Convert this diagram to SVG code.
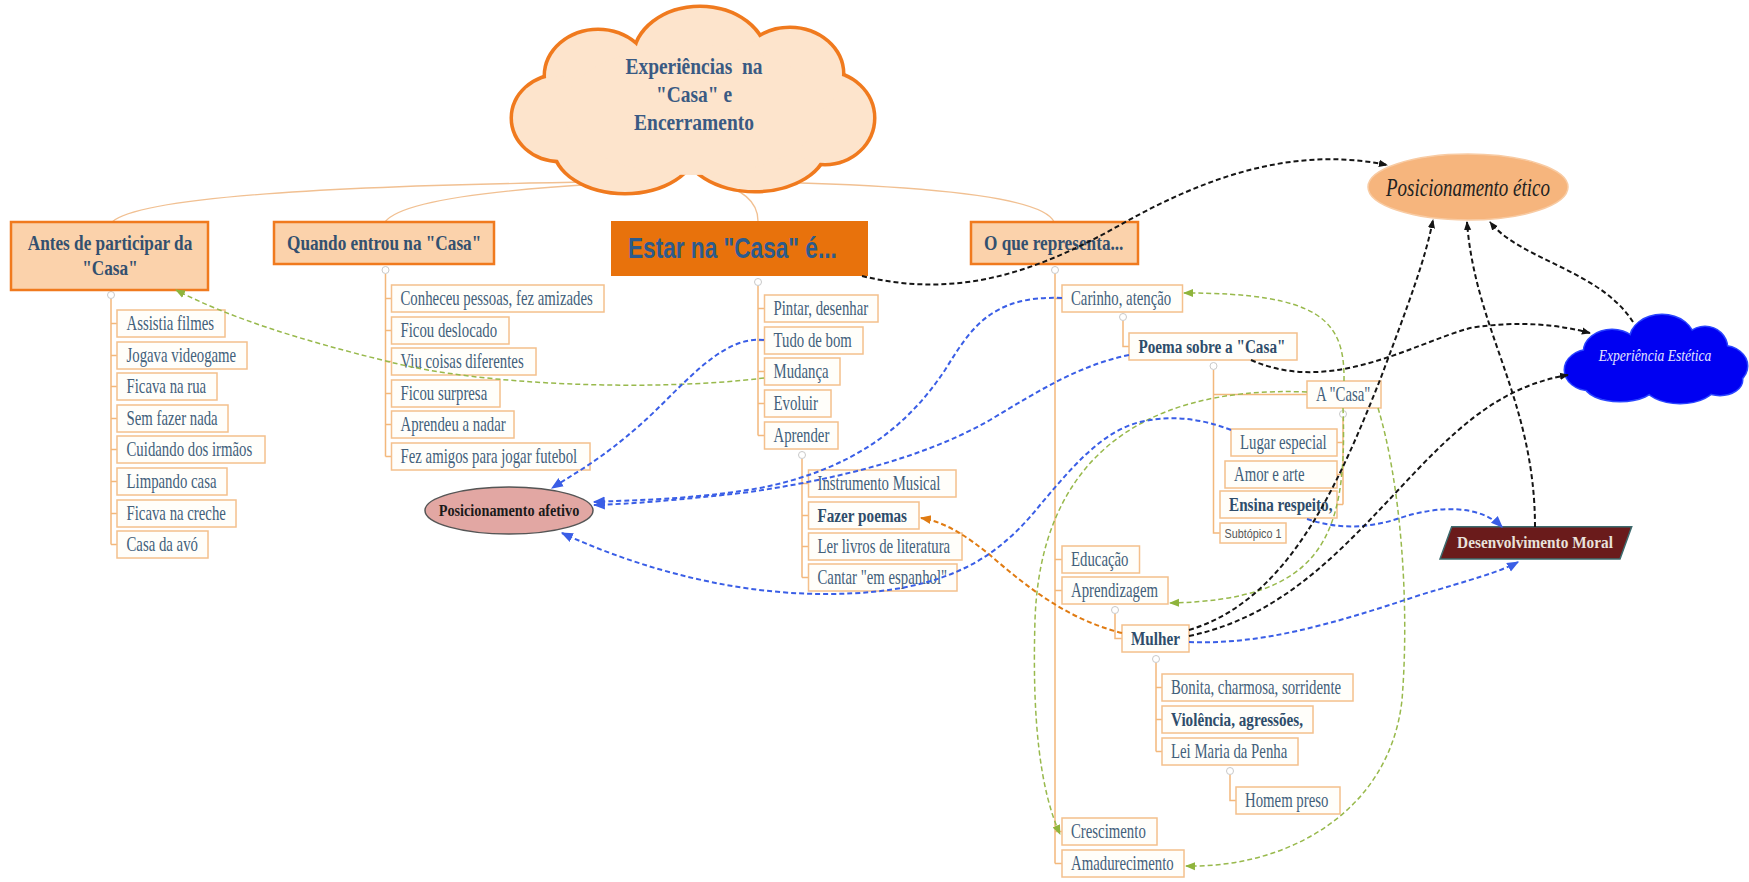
<svg xmlns="http://www.w3.org/2000/svg" width="1749" height="882" viewBox="0 0 1749 882">
<style>
.bx{fill:#fffefa;stroke:#f4c08c;stroke-width:1.5}
.tp{fill:#fbd2ab;stroke:#f07a1e;stroke-width:2.5}
.c{font-family:"Liberation Serif",serif;font-size:21px;fill:#42607a}
.cb{font-family:"Liberation Serif",serif;font-size:19px;font-weight:bold;fill:#2f4d6b}
.t{font-family:"Liberation Serif",serif;font-size:21px;font-weight:bold;fill:#33506f}
.tree{fill:none;stroke:#f3b87c;stroke-width:1.5}
.br{fill:none;stroke:#f1c092;stroke-width:1.3}
.col{fill:#fff;stroke:#c9c9c9;stroke-width:1}
.k{fill:none;stroke:#151515;stroke-width:2;stroke-dasharray:5 3}
.b{fill:none;stroke:#3a5ee6;stroke-width:2;stroke-dasharray:5 3}
.g{fill:none;stroke:#98b94c;stroke-width:1.5;stroke-dasharray:5 3}
.o{fill:none;stroke:#e07b12;stroke-width:2;stroke-dasharray:5 3}
</style>
<defs>
<marker id="ak" viewBox="0 0 10 10" refX="9" refY="5" markerWidth="9" markerHeight="9" markerUnits="userSpaceOnUse" orient="auto"><path d="M0,1 L10,5 L0,9 z" fill="#151515"/></marker>
<marker id="ab" viewBox="0 0 10 10" refX="9" refY="5" markerWidth="12" markerHeight="12" markerUnits="userSpaceOnUse" orient="auto"><path d="M0,1 L10,5 L0,9 z" fill="#3a5ee6"/></marker>
<marker id="ag" viewBox="0 0 10 10" refX="9" refY="5" markerWidth="10" markerHeight="10" markerUnits="userSpaceOnUse" orient="auto"><path d="M0,1 L10,5 L0,9 z" fill="#8fb43c"/></marker>
<marker id="ao" viewBox="0 0 10 10" refX="9" refY="5" markerWidth="11" markerHeight="11" markerUnits="userSpaceOnUse" orient="auto"><path d="M0,1 L10,5 L0,9 z" fill="#e07b12"/></marker>
</defs>
<rect width="1749" height="882" fill="#ffffff"/>

<g id="branches">
<path class="br" d="M597,182 Q150,188 112,222"/>
<path class="br" d="M600,184 Q405,195 385,222"/>
<path class="br" d="M712,182 Q758,192 758,221"/>
<path class="br" d="M763,182 Q1040,188 1054,222"/>
</g>

<g id="tree-lines">
<path class="tree" d="M111,299V544.5M111,323.5H117M111,355.5H117M111,386.5H117M111,418.5H117M111,449.5H117M111,481.5H117M111,513.5H117M111,544.5H117"/>
<path class="tree" d="M385.5,274V456.5M385.5,298.5H391.5M385.5,330.5H391.5M385.5,361.5H391.5M385.5,393.5H391.5M385.5,424.5H391.5M385.5,456.5H391.5"/>
<path class="tree" d="M758,286V435.5M758,308.5H764.5M758,340.5H764.5M758,371.5H764.5M758,403.5H764.5M758,435.5H764.5"/>
<path class="tree" d="M802,459V577.5M802,483.5H808.5M802,515.5H808.5M802,546.5H808.5M802,577.5H808.5"/>
<path class="tree" d="M1055,274V863.5M1055,298.5H1062M1055,559.5H1062M1055,590.5H1062M1055,831.5H1062M1055,863.5H1062"/>
<path class="tree" d="M1123,321V346.5H1129"/>
<path class="tree" d="M1213.5,370V533H1220M1213.5,394.5H1307"/>
<path class="tree" d="M1343,418V504.5M1337,442.5H1343M1337,474.5H1343M1337,504.5H1343"/>
<path class="tree" d="M1115,614V638.5H1122"/>
<path class="tree" d="M1156,663V751.5M1156,687.5H1162M1156,719.5H1162M1156,751.5H1162"/>
<path class="tree" d="M1230,775V800.5H1236"/>
<circle class="col" cx="111" cy="295" r="3.5"/>
<circle class="col" cx="385.5" cy="270" r="3.5"/>
<circle class="col" cx="758" cy="282" r="3.5"/>
<circle class="col" cx="802" cy="455" r="3.5"/>
<circle class="col" cx="1055" cy="270" r="3.5"/>
<circle class="col" cx="1123" cy="317" r="3.5"/>
<circle class="col" cx="1213.5" cy="366" r="3.5"/>
<circle class="col" cx="1343" cy="414" r="3.5"/>
<circle class="col" cx="1115" cy="610" r="3.5"/>
<circle class="col" cx="1156" cy="659" r="3.5"/>
<circle class="col" cx="1230" cy="771" r="3.5"/>
</g>

<g id="root">
<g fill="#f07a1e" stroke="#f07a1e" stroke-width="7">
<ellipse cx="700" cy="58" rx="65" ry="50"/><ellipse cx="598" cy="76" rx="52" ry="45"/><ellipse cx="560" cy="118" rx="47" ry="42"/><ellipse cx="625" cy="147" rx="70" ry="45"/><ellipse cx="755" cy="146" rx="70" ry="44"/><ellipse cx="825" cy="118" rx="48" ry="45"/><ellipse cx="790" cy="74" rx="52" ry="45"/>
</g>
<g fill="#fde4cc">
<ellipse cx="700" cy="58" rx="65" ry="50"/><ellipse cx="598" cy="76" rx="52" ry="45"/><ellipse cx="560" cy="118" rx="47" ry="42"/><ellipse cx="625" cy="147" rx="70" ry="45"/><ellipse cx="755" cy="146" rx="70" ry="44"/><ellipse cx="825" cy="118" rx="48" ry="45"/><ellipse cx="790" cy="74" rx="52" ry="45"/><ellipse cx="693" cy="110" rx="130" ry="65"/>
</g>
<g font-family="Liberation Serif, serif" font-weight="bold" font-size="24" fill="#3a5a83" text-anchor="middle">
<text transform="translate(694,74) scale(0.81,1)" style="white-space:pre">Experiências  na</text>
<text transform="translate(694,102) scale(0.81,1)">"Casa" e</text>
<text transform="translate(694,130) scale(0.81,1)">Encerramento</text>
</g>
</g>

<g id="topic-antes">
<rect class="tp" x="11" y="222" width="197" height="68"/>
<text class="t" text-anchor="middle" transform="translate(110,250) scale(0.82,1)">Antes de participar da</text>
<text class="t" text-anchor="middle" transform="translate(110,275) scale(0.82,1)">"Casa"</text>
</g>
<g id="topic-quando">
<rect class="tp" x="274" y="222" width="220" height="42"/>
<text class="t" transform="translate(287,250) scale(0.82,1)">Quando entrou na "Casa"</text>
</g>
<g id="topic-estar">
<rect x="611" y="221" width="257" height="55" fill="#e8720c"/>
<text font-family="Liberation Sans, Arial, sans-serif" font-weight="bold" font-size="29" fill="#2c5b8d" transform="translate(628,258) scale(0.78,1)">Estar na "Casa" é...</text>
</g>
<g id="topic-oque">
<rect class="tp" x="971" y="222" width="167" height="42"/>
<text class="t" transform="translate(984,250) scale(0.82,1)">O que representa...</text>
</g>

<g id="antes-children">
<g id="n-assistia"><rect class="bx" x="117" y="310" width="108" height="27"/><text class="c" transform="translate(126.5,330) scale(0.705,1)">Assistia filmes</text></g>
<g id="n-jogava"><rect class="bx" x="117" y="342" width="130" height="27"/><text class="c" transform="translate(126.5,362) scale(0.705,1)">Jogava videogame</text></g>
<g id="n-rua"><rect class="bx" x="117" y="373" width="100" height="27"/><text class="c" transform="translate(126.5,393) scale(0.705,1)">Ficava na rua</text></g>
<g id="n-sem"><rect class="bx" x="117" y="405" width="111" height="27"/><text class="c" transform="translate(126.5,425) scale(0.705,1)">Sem fazer nada</text></g>
<g id="n-cuidando"><rect class="bx" x="117" y="436" width="148" height="27"/><text class="c" transform="translate(126.5,456) scale(0.705,1)">Cuidando dos irmãos</text></g>
<g id="n-limpando"><rect class="bx" x="117" y="468" width="110" height="27"/><text class="c" transform="translate(126.5,488) scale(0.705,1)">Limpando casa</text></g>
<g id="n-creche"><rect class="bx" x="117" y="500" width="119" height="27"/><text class="c" transform="translate(126.5,520) scale(0.705,1)">Ficava na creche</text></g>
<g id="n-avo"><rect class="bx" x="117" y="531" width="91" height="27"/><text class="c" transform="translate(126.5,551) scale(0.705,1)">Casa da avó</text></g>
</g>

<g id="quando-children">
<g id="n-conheceu"><rect class="bx" x="391.5" y="285" width="212.5" height="27"/><text class="c" transform="translate(400.5,305) scale(0.705,1)">Conheceu pessoas, fez amizades</text></g>
<g id="n-deslocado"><rect class="bx" x="391.5" y="317" width="117.5" height="27"/><text class="c" transform="translate(400.5,337) scale(0.705,1)">Ficou deslocado</text></g>
<g id="n-viu"><rect class="bx" x="391.5" y="348" width="144.5" height="27"/><text class="c" transform="translate(400.5,368) scale(0.705,1)">Viu coisas diferentes</text></g>
<g id="n-surpresa"><rect class="bx" x="391.5" y="380" width="108.5" height="27"/><text class="c" transform="translate(400.5,400) scale(0.705,1)">Ficou surpresa</text></g>
<g id="n-nadar"><rect class="bx" x="391.5" y="411" width="122.5" height="27"/><text class="c" transform="translate(400.5,431) scale(0.705,1)">Aprendeu a nadar</text></g>
<g id="n-futebol"><rect class="bx" x="391.5" y="443" width="198.5" height="27"/><text class="c" transform="translate(400.5,463) scale(0.705,1)">Fez amigos para jogar futebol</text></g>
</g>

<g id="estar-children">
<g id="n-pintar"><rect class="bx" x="764.5" y="295" width="113.5" height="27"/><text class="c" transform="translate(773.5,315) scale(0.705,1)">Pintar, desenhar</text></g>
<g id="n-tudo"><rect class="bx" x="764.5" y="327" width="98.5" height="27"/><text class="c" transform="translate(773.5,347) scale(0.705,1)">Tudo de bom</text></g>
<g id="n-mudanca"><rect class="bx" x="764.5" y="358" width="75.5" height="27"/><text class="c" transform="translate(773.5,378) scale(0.705,1)">Mudança</text></g>
<g id="n-evoluir"><rect class="bx" x="764.5" y="390" width="66.5" height="27"/><text class="c" transform="translate(773.5,410) scale(0.705,1)">Evoluir</text></g>
<g id="n-aprender"><rect class="bx" x="764.5" y="422" width="73.5" height="27"/><text class="c" transform="translate(773.5,442) scale(0.705,1)">Aprender</text></g>
<g id="n-instrumento"><rect class="bx" x="808.5" y="470" width="147.5" height="27"/><text class="c" transform="translate(817.5,490) scale(0.705,1)">Instrumento Musical</text></g>
<g id="n-fazer"><rect class="bx" x="808.5" y="502" width="110.5" height="27"/><text class="cb" transform="translate(817.5,522) scale(0.8,1)">Fazer poemas</text></g>
<g id="n-ler"><rect class="bx" x="808.5" y="533" width="153.5" height="27"/><text class="c" transform="translate(817.5,553) scale(0.705,1)">Ler livros de literatura</text></g>
<g id="n-cantar"><rect class="bx" x="808.5" y="564" width="148.5" height="27"/><text class="c" transform="translate(817.5,584) scale(0.705,1)">Cantar "em espanhol"</text></g>
</g>

<g id="oque-children">
<g id="n-carinho"><rect class="bx" x="1062" y="285" width="120.5" height="27"/><text class="c" transform="translate(1071,305) scale(0.705,1)">Carinho, atenção</text></g>
<g id="n-poema"><rect class="bx" x="1129" y="333" width="168" height="27"/><text class="cb" transform="translate(1138.5,353) scale(0.8,1)">Poema sobre a "Casa"</text></g>
<g id="n-acasa"><rect class="bx" x="1307" y="381" width="74" height="27"/><text class="c" transform="translate(1316,401) scale(0.705,1)">A "Casa"</text></g>
<g id="n-lugar"><rect class="bx" x="1231" y="429" width="106" height="27"/><text class="c" transform="translate(1240,449) scale(0.705,1)">Lugar especial</text></g>
<g id="n-amor"><rect class="bx" x="1225" y="461" width="112" height="27"/><text class="c" transform="translate(1234,481) scale(0.705,1)">Amor e arte</text></g>
<g id="n-ensina"><rect class="bx" x="1220" y="491" width="117" height="27"/><text class="cb" transform="translate(1229,511) scale(0.8,1)">Ensina respeito,</text></g>
<g id="n-subtopico"><rect class="bx" x="1220" y="523" width="66" height="20"/><text font-family="Liberation Sans, Arial, sans-serif" font-size="12" fill="#555" transform="translate(1224.5,537.5) scale(0.9,1)">Subtópico 1</text></g>
<g id="n-educacao"><rect class="bx" x="1062" y="546" width="77.5" height="27"/><text class="c" transform="translate(1071,566) scale(0.705,1)">Educação</text></g>
<g id="n-aprendizagem"><rect class="bx" x="1062" y="577" width="106" height="27"/><text class="c" transform="translate(1071,597) scale(0.705,1)">Aprendizagem</text></g>
<g id="n-mulher"><rect class="bx" x="1122" y="625" width="67" height="27"/><text class="cb" transform="translate(1131,645) scale(0.8,1)">Mulher</text></g>
<g id="n-bonita"><rect class="bx" x="1162" y="674" width="191" height="27"/><text class="c" transform="translate(1171,694) scale(0.705,1)">Bonita, charmosa, sorridente</text></g>
<g id="n-violencia"><rect class="bx" x="1162" y="706" width="151" height="27"/><text class="cb" transform="translate(1171,726) scale(0.8,1)">Violência, agressões,</text></g>
<g id="n-lei"><rect class="bx" x="1162" y="738" width="136" height="27"/><text class="c" transform="translate(1171,758) scale(0.705,1)">Lei Maria da Penha</text></g>
<g id="n-homem"><rect class="bx" x="1236" y="787" width="104" height="27"/><text class="c" transform="translate(1245,807) scale(0.705,1)">Homem preso</text></g>
<g id="n-crescimento"><rect class="bx" x="1062" y="818" width="95" height="27"/><text class="c" transform="translate(1071,838) scale(0.705,1)">Crescimento</text></g>
<g id="n-amadurecimento"><rect class="bx" x="1062" y="850" width="122" height="27"/><text class="c" transform="translate(1071,870) scale(0.705,1)">Amadurecimento</text></g>
</g>

<g id="pos-afetivo">
<ellipse cx="509" cy="510.5" rx="84" ry="23.5" fill="#e2a7a3" stroke="#555" stroke-width="1.5"/>
<text font-family="Liberation Serif, serif" font-weight="bold" font-size="17" fill="#1a1a1a" text-anchor="middle" transform="translate(509,516) scale(0.84,1)">Posicionamento afetivo</text>
</g>
<g id="pos-etico">
<ellipse cx="1468" cy="187" rx="100" ry="33" fill="#f6b57d" stroke="#f8cba3" stroke-width="1.5"/>
<text font-family="Liberation Serif, serif" font-style="italic" font-size="25" fill="#222" text-anchor="middle" transform="translate(1468,196) scale(0.76,1)">Posicionamento ético</text>
</g>
<g id="exp-estetica">
<g fill="#2a44ff" stroke="#2a44ff" stroke-width="3">
<ellipse cx="1612" cy="352" rx="28" ry="22"/><ellipse cx="1662" cy="340" rx="32" ry="25"/><ellipse cx="1705" cy="348" rx="22" ry="21"/><ellipse cx="1722" cy="366" rx="25" ry="20"/><ellipse cx="1590" cy="370" rx="25" ry="20"/><ellipse cx="1620" cy="385" rx="35" ry="16"/><ellipse cx="1680" cy="385" rx="35" ry="18"/><ellipse cx="1720" cy="380" rx="22" ry="15"/>
</g>
<g fill="#0000f2">
<ellipse cx="1612" cy="352" rx="28" ry="22"/><ellipse cx="1662" cy="340" rx="32" ry="25"/><ellipse cx="1705" cy="348" rx="22" ry="21"/><ellipse cx="1722" cy="366" rx="25" ry="20"/><ellipse cx="1590" cy="370" rx="25" ry="20"/><ellipse cx="1620" cy="385" rx="35" ry="16"/><ellipse cx="1680" cy="385" rx="35" ry="18"/><ellipse cx="1720" cy="380" rx="22" ry="15"/><ellipse cx="1656" cy="365" rx="70" ry="28"/>
</g>
<text font-family="Liberation Serif, serif" font-style="italic" font-size="16" fill="#e4e4ff" text-anchor="middle" transform="translate(1655,361) scale(0.85,1)">Experiência Estética</text>
</g>
<g id="desenv-moral">
<polygon points="1451.7,526.7 1631.7,526.7 1620,559 1440,559" fill="#6a1b1b" stroke="#3d6b6e" stroke-width="1.5"/>
<text font-family="Liberation Serif, serif" font-weight="bold" font-size="17" fill="#e9e2dc" text-anchor="middle" transform="translate(1535,548) scale(0.9,1)">Desenvolvimento Moral</text>
</g>

<g id="connectors">
<path class="g" marker-end="url(#ag)" d="M764,378 C650,392 480,385 390,362 C300,340 230,318 176,290"/>
<path class="g" marker-end="url(#ag)" d="M1344,381 C1345,320 1320,293 1184,293"/>
<path class="g" marker-end="url(#ag)" d="M1307,392 C1130,385 1040,470 1035,620 C1032,720 1040,790 1060,834"/>
<path class="g" marker-end="url(#ag)" d="M1378,408 C1400,480 1410,600 1402,700 C1390,810 1290,868 1186,866"/>
<path class="g" marker-end="url(#ag)" d="M1343,408 C1348,540 1320,600 1170,603"/>
<path class="o" marker-end="url(#ao)" d="M1122,633 C1070,620 1030,590 990,555 C965,535 945,522 921,518"/>
<path class="b" marker-end="url(#ab)" d="M764,340 C720,335 680,390 640,425 S580,470 552,488"/>
<path class="b" marker-end="url(#ab)" d="M1062,298 C990,295 970,330 945,370 C905,430 850,470 760,488 C690,500 630,500 594,502"/>
<path class="b" marker-end="url(#ab)" d="M1129,355 C1080,365 1040,390 990,420 C920,460 830,480 750,492 C680,500 630,504 594,505"/>
<path class="b" marker-end="url(#ab)" d="M1231,430 C1200,418 1170,415 1140,422 C1100,432 1070,470 1040,505 C1000,555 950,593 830,594 C720,595 620,560 562,533"/>
<path class="b" marker-end="url(#ab)" d="M1307,519 C1340,530 1370,528 1400,518 C1440,505 1480,505 1502,527"/>
<path class="b" marker-end="url(#ab)" d="M1189,642 C1260,645 1330,625 1420,595 C1470,580 1500,572 1518,562"/>
<path class="k" marker-end="url(#ak)" d="M862,276 C960,300 1040,270 1120,225 C1200,180 1290,145 1387,165"/>
<path class="k" marker-end="url(#ak)" d="M1251,360 C1330,395 1410,345 1470,328 C1520,320 1560,325 1590,333"/>
<path class="k" marker-end="url(#ak)" d="M1189,630 C1290,600 1340,480 1380,380 C1410,300 1425,260 1433,220"/>
<path class="k" marker-end="url(#ak)" d="M1189,636 C1290,615 1350,540 1420,467 C1470,415 1510,385 1568,375"/>
<path class="k" marker-end="url(#ak)" d="M1535,527 C1535,400 1475,330 1467,222"/>
<path class="k" marker-end="url(#ak)" d="M1633,322 C1600,270 1520,260 1490,222"/>
</g>
</svg>
